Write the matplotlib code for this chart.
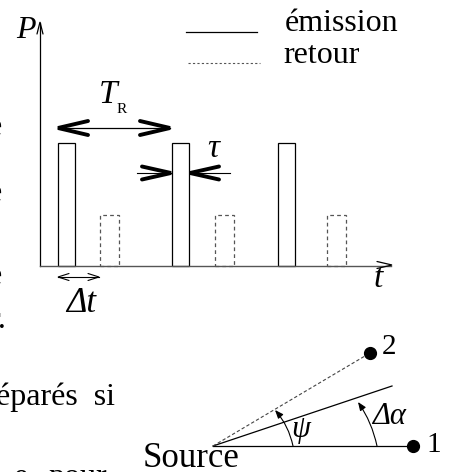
import matplotlib
matplotlib.use('Agg')
import matplotlib.pyplot as plt

plt.rcParams['font.family'] = ['Liberation Serif', 'DejaVu Serif']

# pulse train (pixel units of the original drawing)
emission_left = [58, 172, 278]
emission_width = 17
emission_top = 143
return_left = [100, 215, 327]
return_width = 19
return_top = 215
baseline = 266

# geometry of the angular sketch
source = (213, 446)
point_1 = (413, 446)
point_2 = (370, 353)
beam_end = (392, 386)

left_fragments = [(2, 135, 'e'), (2, 201, 'e'), (2, 284, 'e'), (6, 328, 'r.')]


def open_head(ax, tip, back, half, lw, color='black'):
  (tx, ty) = tip
  (bx, by) = back
  if tx == bx:
    ax.plot([bx - half, tx, bx + half], [by, ty, by], color=color, lw=lw,
            solid_capstyle='round', solid_joinstyle='miter')
  else:
    ax.plot([bx, tx, bx], [by - half, ty, by + half], color=color, lw=lw,
            solid_capstyle='round', solid_joinstyle='miter')


fig = plt.figure(figsize=(4.56, 4.72), dpi=100)
ax = fig.add_axes([0, 0, 1, 1])
ax.set_xlim(0, 456)
ax.set_ylim(472, 0)
ax.axis('off')

# axes of the P(t) chart
ax.plot([40, 40], [266, 23], color='black', lw=0.9)
open_head(ax, (40, 22), (40, 34), 3, 0.9)
ax.plot([40, 391], [266, 266], color='#555555', lw=1.0)
open_head(ax, (392, 265), (377, 265), 3.5, 0.9)

ax.bar(emission_left, [emission_top - baseline] * len(emission_left),
       width=emission_width, bottom=baseline, align='edge',
       fill=False, edgecolor='black', lw=0.9)
ax.bar(return_left, [return_top - baseline] * len(return_left),
       width=return_width, bottom=baseline, align='edge',
       fill=False, edgecolor='#555555', lw=0.9, linestyle=(0, (3, 2.5)))

# T_R arrow
ax.plot([58, 170], [128, 128], color='black', lw=0.9)
open_head(ax, (58, 128), (88, 128), 7, 2.8)
open_head(ax, (170, 128), (140, 128), 7, 2.8)

# tau arrows
ax.plot([137, 171], [173, 173], color='black', lw=0.8)
open_head(ax, (171, 173), (142, 173), 6.5, 2.8)
ax.plot([190, 230], [173, 173], color='black', lw=0.8)
open_head(ax, (190, 173), (219, 173), 6.5, 2.8)

# delta t arrow
ax.plot([58, 99], [277, 277], color='black', lw=0.8)
open_head(ax, (58, 277), (69, 277), 3.5, 0.8)
open_head(ax, (99, 277), (88, 277), 3.5, 0.8)

# legend
ax.plot([186, 257], [32, 32], color='black', lw=0.9)
ax.plot([188, 260], [63, 63], color='#555555', lw=0.8, linestyle=(0, (2, 2)))
ax.text(285, 31, 'émission', fontsize=23, va='baseline')
ax.text(283, 63, 'retour', fontsize=23, va='baseline')

# labels
ax.text(16, 38, 'P', fontsize=23, style='italic', va='baseline')
ax.text(99, 103, 'T', fontsize=24, style='italic', va='baseline')
ax.text(117, 113, 'R', fontsize=11, va='baseline')
ax.text(207, 157, 'τ', fontsize=24, style='italic', va='baseline')
ax.text(66, 312, 'Δt', fontsize=25, style='italic', va='baseline')
ax.text(374, 287, 't', fontsize=24, style='italic', va='baseline')

# angular sketch
ax.plot([source[0], point_1[0]], [source[1], point_1[1]], color='black', lw=0.9)
ax.plot([source[0], beam_end[0]], [source[1], beam_end[1]], color='black', lw=0.9)
ax.plot([source[0], point_2[0]], [source[1], point_2[1]], color='#444444',
        lw=0.8, linestyle=(0, (3, 2)))
ax.plot([point_1[0], point_2[0]], [point_1[1], point_2[1]], 'o', color='black',
        markersize=8.5)

ax.annotate('', xy=(275, 410), xytext=(293, 446),
            arrowprops=dict(arrowstyle='-|>,head_length=0.5,head_width=0.2',
                            connectionstyle='arc3,rad=0.13', color='black', lw=0.8,
                            shrinkA=0, shrinkB=0))
ax.annotate('', xy=(358, 402), xytext=(377, 446),
            arrowprops=dict(arrowstyle='-|>,head_length=0.5,head_width=0.2',
                            connectionstyle='arc3,rad=0.1', color='black', lw=0.8,
                            shrinkA=0, shrinkB=0))

ax.text(291, 437, 'ψ', fontsize=22, style='italic', va='baseline')
ax.text(372, 424, 'Δα', fontsize=22, style='italic', va='baseline')
ax.text(426, 452, '1', fontsize=21, va='baseline')
ax.text(382, 354, '2', fontsize=21, va='baseline')
ax.text(143, 467, 'Source', fontsize=25, va='baseline')

# cropped text from the surrounding page
ax.text(-4, 405, 'éparés  si', fontsize=23, va='baseline')
ax.text(14, 485, 'e', fontsize=23, va='baseline')
ax.text(48, 485, 'pour', fontsize=23, va='baseline')
for (x, y, s) in left_fragments:
  ax.text(x, y, s, fontsize=23, va='baseline', ha='right')

fig.savefig('out.png', dpi=100)
